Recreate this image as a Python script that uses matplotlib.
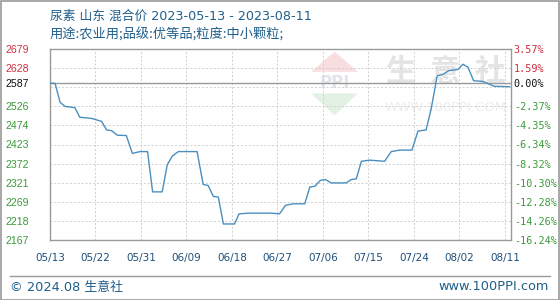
import matplotlib
matplotlib.use("Agg")
import matplotlib.pyplot as plt
from matplotlib.patches import Rectangle, Polygon
from matplotlib.lines import Line2D

plt.rcParams['font.family'] = ['Noto Sans CJK SC', 'DejaVu Sans']

# ---- data ----
title = "尿素 山东 混合价 2023-05-13 - 2023-08-11"
subtitle = "用途:农业用;品级:优等品;粒度:中小颗粒;"
days = [0, 1, 2, 3, 4.9, 5.9, 8.2, 10.2, 11.2, 12.2, 13.3, 15.1, 16.3, 17.8, 19.3,
        20.3, 22.2, 23.2, 24.2, 25.4, 29.1, 30.3, 31.3, 32.3, 33.3, 34.3, 36.5, 37.4,
        39.2, 43.8, 45.4, 46.6, 48.1, 50.4, 51.4, 52.4, 53.5, 54.5, 55.6, 58.6, 59.6,
        60.6, 61.6, 63.2, 66.2, 67.5, 69.2, 71.6, 72.8, 74.4, 75.4, 76.6, 77.6, 78.9,
        80.7, 81.7, 82.7, 83.8, 85.7, 87.9, 90.9]
prices = [2587, 2587, 2536, 2525, 2522, 2496, 2493, 2485, 2462, 2460, 2448, 2447, 2399,
          2404, 2404, 2296, 2296, 2369, 2392, 2404, 2404, 2316, 2313, 2284, 2282, 2210,
          2210, 2237, 2239, 2239, 2237, 2260, 2264, 2264, 2309, 2311, 2327, 2329, 2320,
          2320, 2329, 2331, 2378, 2381, 2378, 2404, 2408, 2408, 2459, 2462, 2518, 2607,
          2610, 2621, 2624, 2638, 2630, 2594, 2592, 2579, 2578]
base_price = 2587
y_min, y_max = 2167, 2679
left_labels = ["2679", "2628", "2587", "2526", "2474", "2423", "2372", "2321",
               "2269", "2218", "2167"]
right_labels = ["3.57%", "1.59%", "0.00%", "-2.37%", "-4.35%", "-6.34%", "-8.32%",
                "-10.30%", "-12.28%", "-14.26%", "-16.24%"]
x_labels = ["05/13", "05/22", "05/31", "06/09", "06/18", "06/27", "07/06", "07/15",
            "07/24", "08/02", "08/11"]
x_tick_days = [0, 9, 18, 27, 36, 45, 54, 63, 72, 81, 90]
footer_left = "© 2024.08 生意社"
footer_right = "www.100PPI.com"

# ---- figure ----
fig = plt.figure(figsize=(5.6, 3.0), dpi=100)
fig.patch.set_facecolor('white')
ax = fig.add_axes([50/560, 1-240/300, 461/560, 191/300])

step = (y_max - y_min) / 10
grid_vals = [y_max - k*step for k in range(11)]
tick_pos = list(grid_vals)
tick_pos[2] = base_price

line_col = '#4a8fbf'
ax.plot(days, prices, color=line_col, lw=1.0, solid_joinstyle='round', zorder=5)

ax.set_xlim(0, 91.2)
ax.set_ylim(y_min, y_max)

for v in grid_vals[1:-1]:
    ax.axhline(v, color='#cfcfcf', lw=0.7, ls=(0, (2, 2)), zorder=1)
for d in x_tick_days[1:]:
    ax.axvline(d, color='#cfcfcf', lw=0.7, ls=(0, (2, 2)), zorder=1)
ax.axhline(base_price, color='#999999', lw=1.0, zorder=2)

for s in ax.spines.values():
    s.set_color('#9a9a9a')
    s.set_linewidth(1.0)

ax.set_yticks(tick_pos)
ax.set_yticklabels(left_labels, fontfamily='Liberation Sans', fontsize=7.6)
ax.tick_params(axis='y', length=0, pad=15)
for i, lab in enumerate(ax.get_yticklabels()):
    lab.set_color('#d03040' if i < 2 else ('#111111' if i == 2 else '#3a9a3a'))

ax2 = ax.twinx()
ax2.set_ylim(y_min, y_max)
ax2.set_yticks(tick_pos)
ax2.set_yticklabels(right_labels, fontfamily='DejaVu Sans Mono', fontsize=7.3)
ax2.tick_params(axis='y', length=0, pad=2)
for i, lab in enumerate(ax2.get_yticklabels()):
    lab.set_color('#d03040' if i < 2 else ('#111111' if i == 2 else '#3a9a3a'))
for s in ax2.spines.values():
    s.set_visible(False)

ax.set_xticks(x_tick_days)
ax.set_xticklabels(x_labels, fontfamily='DejaVu Sans', fontsize=7.5, color='#1f4f7a')
ax.tick_params(axis='x', length=0, pad=9)

# watermark
for dx, ch in zip([69.4, 78.1, 87.0], "生意社"):
    ax.text(dx, 2617, ch, fontsize=22, color='#e4e4e4', ha='center', va='center',
            zorder=0, fontweight='bold')
ax.text(78.3, 2523, "WWW.100PPI.COM", fontsize=9.5, color='#ededed', ha='center',
        va='center', fontfamily='DejaVu Sans', zorder=0)
ax.add_patch(Polygon([[51.7, 2618], [56.3, 2672], [60.9, 2618]], closed=True,
                     color='#f8dede', zorder=0, lw=0))
ax.add_patch(Polygon([[51.7, 2560], [56.3, 2501], [60.9, 2560]], closed=True,
                     color='#e2f1e2', zorder=0, lw=0))
ax.text(56.3, 2589, "PPI", fontsize=12, color='#e2e6ea', ha='center', va='center',
        fontfamily='DejaVu Sans', fontweight='bold', zorder=0)

# titles
tcol = '#1f5f8b'
fig.text(50/560, 1-16/300, title, fontsize=9.2, color=tcol, va='center', ha='left',
         family=['DejaVu Sans', 'Noto Sans CJK SC'])
fig.text(50/560, 1-35/300, subtitle, fontsize=9.5, color=tcol, va='center', ha='left')

# footer
fig.add_artist(Line2D([10/560, 550/560], [1-276/300, 1-276/300], color='#9a9a9a',
                      lw=1.0, transform=fig.transFigure))
fig.text(10/560, 1-287/300, footer_left, fontsize=9.3, color=tcol, va='center', ha='left',
         family=['DejaVu Sans', 'Noto Sans CJK SC'])
fig.text(549/560, 1-287/300, footer_right, fontsize=9.3, color=tcol, va='center',
         ha='right', fontfamily='DejaVu Sans')
fig.add_artist(Rectangle((0.5/560, 0.5/300), 558.5/560, 298.5/300, fill=False,
                         edgecolor='#9a9a9a', lw=1.2, transform=fig.transFigure))

fig.savefig("out.png", dpi=100, facecolor='white')
